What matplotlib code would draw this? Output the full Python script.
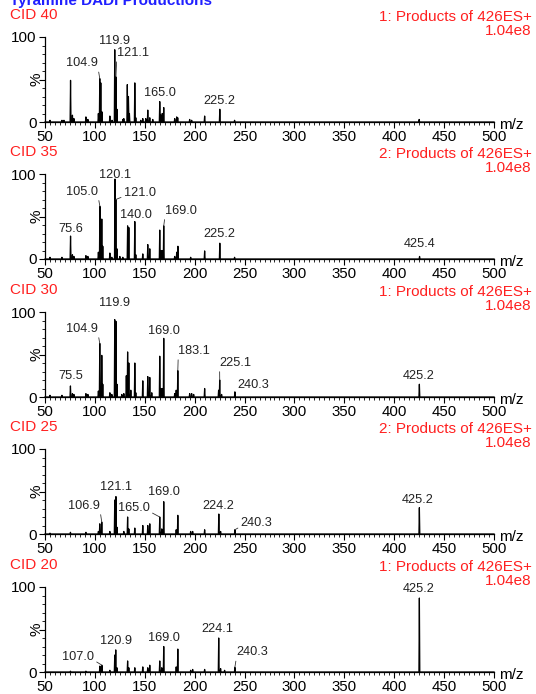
import numpy as np
import matplotlib
matplotlib.use("Agg")
import matplotlib.pyplot as plt
from matplotlib.ticker import MultipleLocator, FixedLocator

plt.rcParams["font.family"] = ["Liberation Sans", "DejaVu Sans"]

# ---- data: peak m/z and relative intensity (%) per collision energy ----
cid_names = ["CID 40", "CID 35", "CID 30", "CID 25", "CID 20"]
func_names = ["1: Products of 426ES+", "2: Products of 426ES+", "1: Products of 426ES+",
              "2: Products of 426ES+", "1: Products of 426ES+"]
scale_text = "1.04e8"

mz40 = [55, 67, 69, 75.6, 77.5, 79, 91, 93, 103.5, 104.9, 105.9, 107, 115, 117.2, 119.9, 121.1,
        122.1, 128, 129, 132.5, 133.6, 134.6, 140.0, 141, 146, 148, 151, 153, 155, 158, 165.0,
        166, 167.5, 169, 180, 182, 183, 195, 197, 210, 225.2, 240, 425]
in40 = [2, 2, 2, 49, 8, 4, 6, 3, 10, 51, 46, 12, 7, 2, 85, 53,
        15, 3, 4, 44, 30, 10, 46, 5, 2, 4, 4, 14, 5, 3, 24,
        8, 10, 17, 4, 6, 5, 3, 2, 7, 15, 2, 3]

mz35 = [55, 67, 75.6, 77.5, 79, 91, 93, 103.5, 105.0, 106.9, 107.9, 115, 117, 120.1, 121.0,
        122.1, 125, 128, 132.8, 134.0, 140.0, 141, 148, 153, 155, 165, 166, 167.5, 169.0,
        180, 182, 183.2, 196, 210, 225.2, 240, 425.4]
in35 = [2, 2, 27, 5, 3, 4, 3, 8, 62, 47, 15, 7, 2, 94, 70,
        12, 3, 2, 39, 37, 44, 5, 6, 17, 12, 34, 10, 10, 39,
        3, 8, 15, 2, 9.5, 18.6, 2, 3]

mz30 = [55, 67, 75.5, 77.5, 79, 91, 93, 103.5, 104.9, 106.9, 107.9, 115, 117, 119.9, 121.1,
        122.1, 127, 129, 131.5, 132.8, 134.0, 136, 140, 141, 148, 153, 155, 157, 165, 166,
        167.5, 169.0, 180, 181.5, 183.1, 195, 197, 199, 210, 224, 225.1, 227, 240.3, 425.2]
in30 = [2, 2, 13, 4, 3, 4, 3, 7, 63, 49, 15, 5, 3, 91, 89,
        15, 3, 4, 25, 53, 40, 8, 40, 5, 19, 24, 23, 5, 48, 10,
        10, 69, 4, 8, 31, 4, 4, 3, 10, 8, 20, 3, 6, 15]

mz25 = [55, 75.5, 91, 103.5, 104.9, 106.9, 115, 119.9, 121.1, 122.1, 129, 132.8, 134, 140,
        148, 153, 155, 165.0, 167, 169.0, 181.5, 183.1, 196, 198, 210, 224.2, 226, 240.3, 425.2]
in25 = [1, 2, 2, 3, 12, 14, 3, 40, 44, 8, 3, 20, 6, 7,
        10, 10, 12, 20, 6, 38, 5, 22, 3, 3, 5, 23.5, 3, 5, 31]

mz20 = [75.5, 91, 105, 107.0, 115, 119.9, 120.9, 122.1, 132.8, 134, 140, 148, 153, 155,
        165, 167, 169.0, 181.5, 183.1, 196, 198, 210, 224.1, 226, 230, 240.3, 425.2]
in20 = [1, 1, 7, 8, 2, 20, 26, 5, 13, 5, 5, 6, 5, 8,
        13, 5, 30, 6, 27, 2, 3, 3, 40, 4, 2, 5.5, 87]

labels40 = [104.9, 119.9, 121.1, 165.0, 225.2]
labels35 = [75.6, 105.0, 120.1, 121.0, 140.0, 169.0, 225.2, 425.4]
labels30 = [75.5, 104.9, 119.9, 169.0, 183.1, 225.1, 240.3, 425.2]
labels25 = [106.9, 121.1, 165.0, 169.0, 224.2, 240.3, 425.2]
labels20 = [107.0, 120.9, 169.0, 224.1, 240.3, 425.2]

# ---- layout: label text anchor (x, y) and leader side ----
lpos40 = [(87, 62, -1), (120, 88, 0), (138, 74, 1), (165, 27, 0), (225, 18, 0)]
lpos35 = [(76, 28.6, 0), (87, 72, -1), (120, 92, 0), (145, 71, 1), (141, 45, 0),
          (186.5, 49.6, 1), (225, 22.6, 0), (425, 11, 0)]
lpos30 = [(75.5, 18, 0), (87, 73, -1), (120, 104, 0), (169, 71, 0), (199.5, 47, 1),
          (241, 33, 1), (259, 7, 1), (425, 18, 0)]
lpos25 = [(89, 26, -1), (121, 48, 0), (139, 23.5, -1), (169, 42, 0), (224, 26, 0),
          (262, 6, 1), (424, 33, 0)]
lpos20 = [(83, 11, -1), (121, 30, 0), (169, 33, 0), (223, 43, 0), (258, 16, 1), (425, 90, 0)]

panels = [(mz40, in40, labels40, lpos40), (mz35, in35, labels35, lpos35),
          (mz30, in30, labels30, lpos30), (mz25, in25, labels25, lpos25),
          (mz20, in20, labels20, lpos20)]

RED = "#ff2020"
W, H = 536, 694
fig = plt.figure(figsize=(W / 100, H / 100), dpi=100)

# title sits mostly above the top edge, as in the original export
fig.text(10 / W, 1 - 5 / H, "Tyramine DADI Productions", color="#1f1fff",
         fontsize=11, fontweight="bold", va="baseline", ha="left")

ax_left, ax_w, ax_h = 45, 449, 85
bottoms = [122, 259, 397, 534, 672]
half_w = 0.45

for i, (mz, inten, labs, lpos) in enumerate(panels):
    ax = fig.add_axes([ax_left / W, 1 - bottoms[i] / H, ax_w / W, ax_h / H])

    # profile-like peaks: narrow triangles on a zero baseline
    order = np.argsort(mz)
    xs, ys = [50], [0]
    for j in order:
        xs += [mz[j] - half_w, mz[j], mz[j] + half_w]
        ys += [0, inten[j], 0]
    xs.append(500)
    ys.append(0)
    ax.plot(xs, ys, color="black", lw=0.9, clip_on=False)

    ax.set_xlim(50, 500)
    ax.set_ylim(0, 100)
    for s in ["top", "right"]:
        ax.spines[s].set_visible(False)
    for s in ["left", "bottom"]:
        ax.spines[s].set_linewidth(0.9)

    ax.xaxis.set_major_locator(MultipleLocator(50))
    ax.xaxis.set_minor_locator(MultipleLocator(5))
    ax.yaxis.set_major_locator(FixedLocator([0, 50, 100]))
    ax.yaxis.set_minor_locator(MultipleLocator(10))
    ax.set_yticklabels(["0", "", "100"])
    ax.tick_params(which="major", length=4, width=0.8, labelsize=10.8, pad=1.5)
    ax.tick_params(which="minor", length=2.2, width=0.6)
    ax.tick_params(axis="y", labelsize=11, pad=2)

    ax.text(-0.018, 0.5, "%", rotation=90, transform=ax.transAxes,
            ha="center", va="center", fontsize=11)
    ax.text(1.012, -0.03, "m/z", transform=ax.transAxes, ha="left", va="center",
            fontsize=11)

    ax.text(-0.078, 1.259, cid_names[i], transform=ax.transAxes, ha="left",
            va="center", color=RED, fontsize=11)
    ax.text(1.0846, 1.239, func_names[i], transform=ax.transAxes, ha="right",
            va="center", color=RED, fontsize=11)
    ax.text(1.0846, 1.074, scale_text, transform=ax.transAxes, ha="right",
            va="center", color=RED, fontsize=11)

    mz_arr = np.array(mz)
    for lab, (tx, ty, side) in zip(labs, lpos):
        k = int(np.argmin(np.abs(mz_arr - lab)))
        txt = f"{lab:.1f}"
        if side == 0:
            ax.annotate(txt, xy=(mz[k], inten[k]), xytext=(tx, ty), ha="center",
                        va="bottom", fontsize=9.2, color="#222222")
        else:
            rel = (1.0, 0.2) if side < 0 else (0.0, 0.2)
            ax.annotate(txt, xy=(mz[k], inten[k]), xytext=(tx, ty), ha="center",
                        va="bottom", fontsize=9.2, color="#222222",
                        arrowprops=dict(arrowstyle="-", lw=0.6, color="#333333",
                                        shrinkA=0, shrinkB=0, relpos=rel))

fig.savefig("out.png", dpi=100)
